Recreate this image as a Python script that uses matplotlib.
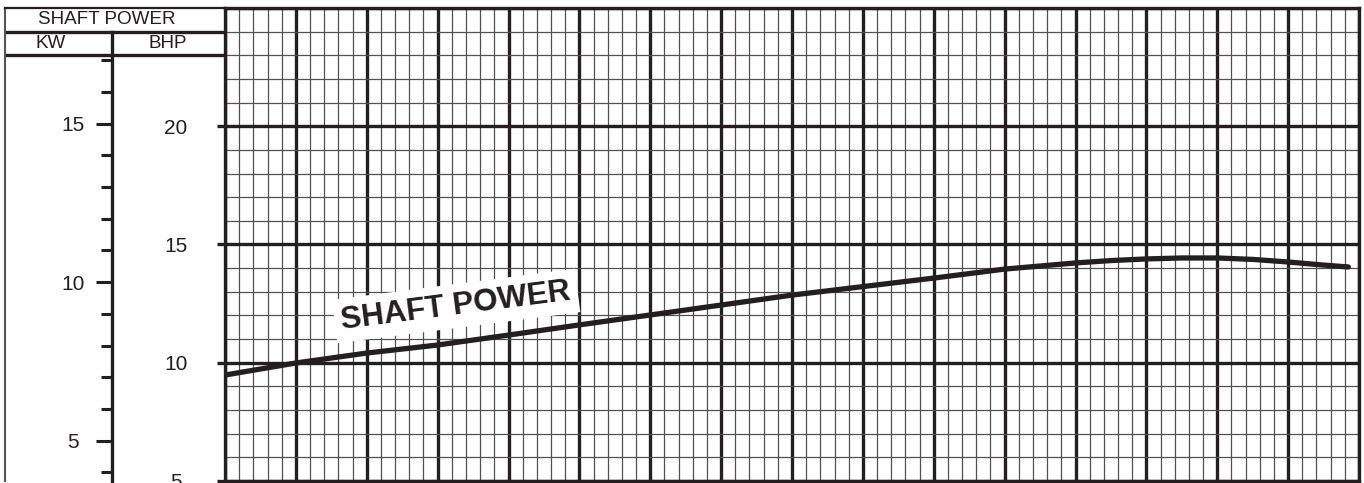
import numpy as np
import matplotlib
matplotlib.use('Agg')
import matplotlib.pyplot as plt
from matplotlib.ticker import FixedLocator

plt.rcParams['font.family'] = ['Liberation Sans', 'DejaVu Sans']

INK = '#231f20'
KW_PER_BHP = 0.7457

# curve: x in major grid divisions, y in BHP
curve_x = [0, 1, 2, 3, 4, 5, 6, 7, 8, 9, 10, 11, 12, 12.5, 13, 13.5, 14, 14.5, 15, 15.5, 15.85]
curve_bhp = [9.48, 9.99, 10.41, 10.75, 11.17, 11.6, 12.02, 12.44, 12.86, 13.22, 13.58, 13.96,
             14.22, 14.32, 14.39, 14.43, 14.43, 14.37, 14.26, 14.13, 14.05]

bhp_ticks = [5, 10, 15, 20]
bhp_labels = ['5', '10', '15', '20']
kw_ticks = [5, 10, 15]
kw_labels = ['5', '10', '15']
kw_minor = [4, 6, 7, 8, 9, 11, 12, 13, 14, 16, 17]

header_title = 'SHAFT POWER'
header_units = ['KW', 'BHP']
curve_label = 'SHAFT POWER'

W, H = 1364, 483
fig = plt.figure(figsize=(W / 100, H / 100), dpi=100)
bot = 2 / H
hgt = (481 - 8) / H

# ---- left panel (header + frame) ----
side = fig.add_axes([5 / W, bot, 220 / W, hgt])
side.set_xlim(5, 225)
side.set_ylim(5, 25)
side.set_xticks([])
side.set_yticks([])
for s in ['right', 'bottom']:
    side.spines[s].set_visible(False)
side.spines['left'].set_color('#555555')
side.spines['left'].set_linewidth(1.5)
side.spines['top'].set_color(INK)
side.spines['top'].set_linewidth(1.6)
side.axhline(24, color=INK, lw=2.4)
side.axhline(23, color=INK, lw=2.4)
side.text(107, 24.5, header_title, ha='center', va='center', fontsize=13.6, color=INK)
side.text(51, 23.48, header_units[0], ha='center', va='center', fontsize=13.6, color=INK)
side.text(168, 23.48, header_units[1], ha='center', va='center', fontsize=13.6, color=INK)

# ---- KW scale ----
kw = fig.add_axes([112 / W, bot, 113 / W, hgt])
kw.patch.set_visible(False)
kw.set_ylim(5 * KW_PER_BHP, 25 * KW_PER_BHP)
kw.set_xticks([])
for s in ['right', 'top', 'bottom']:
    kw.spines[s].set_visible(False)
kw.spines['left'].set_linewidth(2.4)
kw.spines['left'].set_color(INK)
kw.spines['left'].set_bounds(5 * KW_PER_BHP, 24 * KW_PER_BHP)
kw.yaxis.set_major_locator(FixedLocator(kw_ticks))
kw.yaxis.set_minor_locator(FixedLocator(kw_minor))
kw.set_yticklabels(kw_labels)
kw.tick_params(axis='y', which='major', length=11.5, width=2.2, color=INK,
               labelsize=15, labelcolor=INK, pad=16.6)
kw.tick_params(axis='y', which='minor', length=7.9, width=2.2, color=INK)
for lab in kw.get_yticklabels():
    lab.set_ha('center')

# ---- main grid ----
ax = fig.add_axes([225 / W, bot, (1359 - 225) / W, hgt])
ax.set_xlim(0, 16)
ax.set_ylim(5, 25)
ax.set_xticks(np.arange(0, 17, 1))
ax.set_xticks(np.arange(0, 16.01, 0.2), minor=True)
ax.set_yticks(bhp_ticks + [25])
ax.set_yticklabels(bhp_labels + [''])
ax.set_yticks(np.arange(5, 25.01, 1), minor=True)
ax.grid(which='minor', color='#505050', lw=0.9)
ax.grid(which='major', color=INK, lw=2.4)
ax.set_axisbelow(True)
ax.tick_params(axis='x', which='both', length=0, labelbottom=False)
ax.tick_params(axis='y', which='minor', length=0)
ax.tick_params(axis='y', which='major', length=5.8, width=2.4, color=INK,
               labelsize=15, labelcolor=INK, pad=29.5)
ax.yaxis.get_major_ticks()[-1].tick1line.set_visible(False)
for lab in ax.get_yticklabels():
    lab.set_ha('center')
for s in ax.spines.values():
    s.set_linewidth(2.4)
    s.set_color(INK)

ax.plot(curve_x, curve_bhp, color=INK, lw=3.8, solid_capstyle='round', zorder=5)
ax.text(3.26, 12.4, curve_label, rotation=7.3, rotation_mode='anchor', ha='center',
        va='center', fontsize=22.5, fontweight='bold', color=INK, zorder=4,
        bbox=dict(facecolor='white', edgecolor='none', pad=5))

fig.savefig('out.png', dpi=100)
